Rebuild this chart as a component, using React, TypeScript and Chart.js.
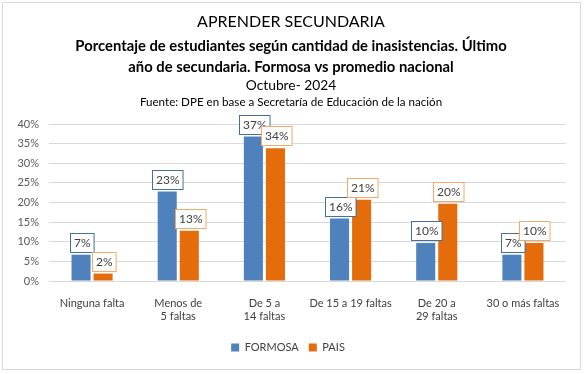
import React, { useEffect, useRef } from "react";
import { Chart, registerables } from "chart.js";

Chart.register(...registerables);

const categories: (string | string[])[] = [
  "Ninguna falta",
  ["Menos de", "5 faltas"],
  ["De 5 a", "14 faltas"],
  "De 15 a 19 faltas",
  ["De 20 a", "29 faltas"],
  "30 o más faltas",
];
const formosa = [6.7, 22.8, 36.8, 15.9, 9.7, 6.7];
const pais = [1.9, 12.8, 33.8, 20.7, 19.7, 9.7];
const seriesNames = ["FORMOSA", "PAIS"];
const titleLines = [
  "APRENDER SECUNDARIA",
  "Porcentaje de estudiantes según cantidad de inasistencias. Último",
  "año de secundaria. Formosa vs promedio nacional",
  "Octubre- 2024",
  "Fuente: DPE en base a Secretaría de Educación de la nación",
];

const FONT = "Lato, 'Open Sans', sans-serif";
const BLUE = "#4F81BD";
const ORANGE = "#E46C0A";
const BLUE_BORDER = "#41719C";
const ORANGE_BORDER = "#F4A96A";

const framePlugin = {
  id: "frame",
  beforeDraw(chart: any) {
    const ctx = chart.ctx;
    ctx.save();
    ctx.fillStyle = "#ffffff";
    ctx.fillRect(0, 0, chart.width, chart.height);
    ctx.strokeStyle = "#D9D9D9";
    ctx.lineWidth = 1;
    ctx.strokeRect(2.5, 2.5, 578, 367);
    ctx.restore();
  },
  afterDraw(chart: any) {
    const ctx = chart.ctx;
    ctx.save();
    ctx.fillStyle = "#000000";
    ctx.textAlign = "center";
    ctx.textBaseline = "middle";
    const cx = 291;
    ctx.font = `16px ${FONT}`;
    ctx.fillText(titleLines[0], cx, 22);
    ctx.font = `bold 14.8px ${FONT}`;
    ctx.fillText(titleLines[1], cx, 46);
    ctx.fillText(titleLines[2], cx, 67);
    ctx.font = `13.8px ${FONT}`;
    ctx.fillText(titleLines[3], cx, 86);
    ctx.font = `11.6px ${FONT}`;
    ctx.fillText(titleLines[4], cx, 102);
    ctx.restore();
  },
};

const labelPlugin = {
  id: "boxLabels",
  afterDatasetsDraw(chart: any) {
    const ctx = chart.ctx;
    ctx.save();
    ctx.font = `12px ${FONT}`;
    ctx.textAlign = "center";
    ctx.textBaseline = "middle";
    chart.data.datasets.forEach((ds: any, di: number) => {
      const meta = chart.getDatasetMeta(di);
      const border = di === 0 ? BLUE_BORDER : ORANGE_BORDER;
      meta.data.forEach((bar: any, i: number) => {
        const text = Math.round(ds.data[i]) + "%";
        const w = ctx.measureText(text).width + 7;
        const h = 19;
        const x = bar.x + 0.5;
        const bottom = bar.y - 3;
        const left = Math.round(x - w / 2) + 0.5;
        const top = Math.round(bottom - h) + 0.5;
        ctx.fillStyle = "#ffffff";
        ctx.fillRect(left, top, w, h);
        ctx.strokeStyle = border;
        ctx.lineWidth = 1;
        ctx.strokeRect(left, top, w, h);
        ctx.fillStyle = "#404040";
        ctx.fillText(text, left + w / 2, top + h / 2 + 0.5);
      });
    });
    ctx.restore();
  },
};

export default function App() {
  const ref = useRef<HTMLCanvasElement>(null);
  useEffect(() => {
    document.body.style.margin = "0";
    const chart = new Chart(ref.current!, {
      type: "bar",
      data: {
        labels: categories,
        datasets: [
          {
            label: seriesNames[0],
            data: formosa,
            backgroundColor: BLUE,
            barPercentage: 0.864,
            categoryPercentage: 0.512,
          },
          {
            label: seriesNames[1],
            data: pais,
            backgroundColor: ORANGE,
            barPercentage: 0.864,
            categoryPercentage: 0.512,
          },
        ],
      },
      options: {
        animation: false,
        responsive: false,
        maintainAspectRatio: false,
        layout: { padding: { top: 124, right: 21, left: 10, bottom: 11 } },
        scales: {
          x: {
            grid: { display: false },
            border: { display: false },
            ticks: {
              color: "#404040",
              font: { family: FONT, size: 11 },
              maxRotation: 0,
              autoSkip: false,
              padding: 8,
            },
            afterFit: (s: any) => {
              s.height = 51;
            },
          },
          y: {
            min: 0,
            max: 40,
            grid: { color: "#D9D9D9", drawTicks: false },
            border: { display: false },
            ticks: {
              stepSize: 5,
              color: "#595959",
              font: { family: FONT, size: 11 },
              padding: 10,
              callback: (v: any) => v + "%",
            },
            afterFit: (s: any) => {
              s.width = 39;
            },
          },
        },
        plugins: {
          legend: {
            position: "bottom",
            labels: {
              boxWidth: 8,
              boxHeight: 8,
              padding: 10,
              color: "#404040",
              font: { family: FONT, size: 11 },
            },
          },
          tooltip: { enabled: false },
          title: { display: false },
        },
      },
      plugins: [framePlugin, labelPlugin],
    });
    return () => chart.destroy();
  }, []);
  return (
    <div style={{ position: "absolute", left: 0, top: 0, width: 587, height: 374 }}>
      <canvas ref={ref} width={587} height={374} />
    </div>
  );
}
